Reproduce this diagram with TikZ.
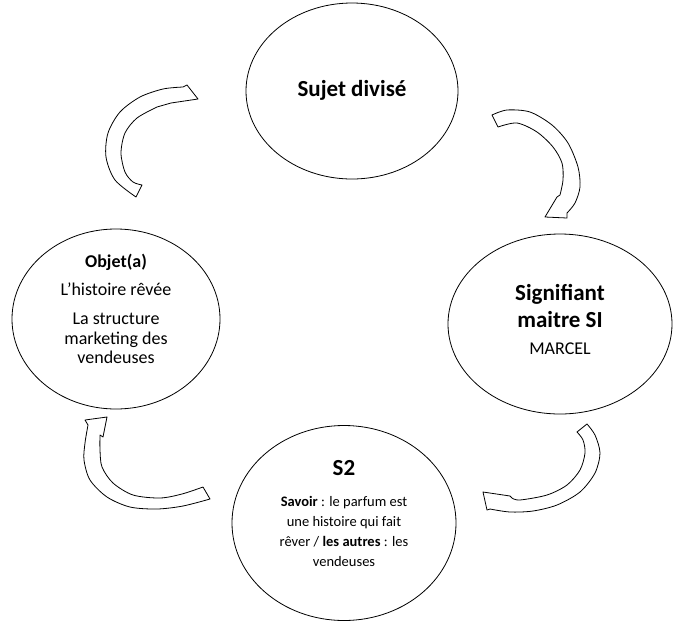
\documentclass[tikz,border=0pt]{standalone}
\usepackage{fontspec}
\setmainfont{Carlito}
\usetikzlibrary{shapes.geometric}

\begin{document}
\begin{tikzpicture}[x=1pt, y=-1pt,
  bubble/.style={ellipse, draw, line width=0.8pt, inner sep=0pt},
  bubble text/.style={align=center, inner sep=0pt},
  ring arrow/.style={draw, line width=0.8pt, fill=white, line join=round}]
  \useasboundingbox (0,0) rectangle (697,625);

  \node[bubble, minimum width=212pt, minimum height=176pt] (sujet) at (352,91) {};
  \node[bubble, minimum width=224pt, minimum height=180pt] (signifiant) at (560,324) {};
  \node[bubble, minimum width=224pt, minimum height=195pt] (savoir) at (344,523) {};
  \node[bubble, minimum width=208pt, minimum height=180pt] (objet) at (116,319) {};

  \node[bubble text, font=\fontsize{23}{27}\selectfont\bfseries] (sujet text) at (352,90) {Sujet divisé};
  \node[bubble text, font=\fontsize{23}{27}\selectfont] (signifiant text) at (560,319) {\textbf{Signifiant}\\\textbf{maitre SI}\\\fontsize{18}{27}\selectfont MARCEL};
  \node[bubble text, font=\fontsize{14.5}{20}\selectfont] (savoir text) at (344,514) {\fontsize{23}{20}\selectfont\textbf{S2}\\[11pt]\fontsize{14.5}{20}\selectfont\textbf{Savoir} : le parfum est\\une histoire qui fait\\rêver / \textbf{les autres} : les\\vendeuses};
  \node[bubble text, font=\fontsize{18}{19.5}\selectfont] (objet text) at (116,309) {\textbf{Objet(a)}\\[8pt]L’histoire rêvée\\[10pt]La structure\\marketing des\\vendeuses};

  \draw[ring arrow] plot[smooth] coordinates {(136,197) (115,180) (106,157) (108,133) (120,112) (140,97) (163,89) (183,87)}
    -- (187,85) -- (198,99) -- (171,103)
    -- plot[smooth] coordinates {(157,107) (137,118) (125,133) (121,153) (125,172) (133,182) (142,185)} -- cycle;
  \draw[ring arrow] plot[smooth] coordinates {(492,115) (507,110) (530,112) (552,125) (568,143) (578,167) (580,187) (575,203) (567,213)}
    -- (567,218) -- (545,217) -- (557,197)
    -- plot[smooth] coordinates {(560,195) (563,180) (562,163) (553,147) (537,132) (517,123) (498,127)} -- cycle;
  \draw[ring arrow] plot[smooth] coordinates {(587,424) (595,435) (600,453) (595,473) (580,492) (557,505) (533,511) (510,512) (490,509)}
    -- (487,510) -- (483,492) -- (510,496)
    -- plot[smooth] coordinates {(512,498) (520,500) (547,495) (567,485) (580,470) (585,453) (583,440) (577,432)} -- cycle;
  \draw[ring arrow] plot[smooth] coordinates {(210,499) (183,506) (157,509) (130,507) (107,497) (90,480) (84,460) (85,443) (88,425)}
    -- (85,420) -- (107,417) -- (103,437)
    -- plot[smooth] coordinates {(100,435) (100,450) (102,467) (113,483) (133,495) (160,498) (182,494) (203,487)} -- cycle;
\end{tikzpicture}
\end{document}
